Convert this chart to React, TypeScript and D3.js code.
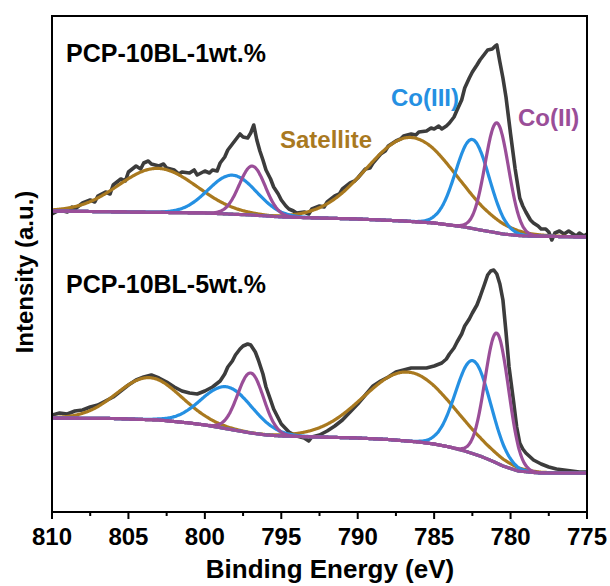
import React from "react";
import * as d3 from "d3";

const W = 610;
const H = 586;
const plot = { left: 52, right: 587, top: 16, bottom: 512 };

const xMajorTicks = [810, 805, 800, 795, 790, 785, 780, 775];
const xMinorTicks = [807.5, 802.5, 797.5, 792.5, 787.5, 782.5, 777.5];

const sampleNames = ["PCP-10BL-1wt.%", "PCP-10BL-5wt.%"];
const componentNames = ["Satellite", "Co(III)", "Co(II)"];
const componentColors = ["#A9791F", "#2590E2", "#9A4E98"];

// measured spectra: [binding energy eV, intensity a.u.]
const spectrum1wt: [number, number][] = [
  [810.0, 298], [809.5, 302], [809.0, 300], [808.7, 305], [808.5, 303], [808.0, 309], [807.5, 312],
  [807.2, 310], [807.0, 316], [806.5, 320], [806.2, 318], [806.0, 327], [805.5, 333], [805.2, 331],
  [805.0, 340], [804.5, 346], [804.2, 343], [804.0, 349], [803.7, 351], [803.5, 348], [803.0, 346],
  [802.7, 348], [802.5, 344], [802.0, 342], [801.7, 338], [801.5, 340], [801.0, 339], [800.7, 342],
  [800.5, 337], [800.0, 341], [799.7, 339], [799.5, 342], [799.2, 341], [799.0, 349], [798.7, 355],
  [798.5, 362], [798.2, 368], [798.0, 372], [797.7, 378], [797.5, 375], [797.2, 374], [797.0, 379],
  [796.8, 387], [796.6, 372], [796.4, 361], [796.2, 352], [796.0, 342], [795.7, 333], [795.5, 325],
  [795.2, 318], [795.0, 312], [794.7, 306], [794.5, 303], [794.2, 301], [794.0, 299], [793.5, 300],
  [793.2, 298], [793.0, 303], [792.5, 306], [792.2, 305], [792.0, 310], [791.5, 316], [791.2, 318],
  [791.0, 323], [790.5, 329], [790.2, 331], [790.0, 334], [789.5, 343], [789.2, 344], [789.0, 349],
  [788.5, 358], [788.2, 361], [788.0, 366], [787.5, 371], [787.2, 373], [787.0, 376], [786.5, 378],
  [786.2, 377], [786.0, 380], [785.5, 381], [785.2, 384], [785.0, 383], [784.7, 386], [784.5, 383],
  [784.2, 386], [784.0, 389], [783.7, 395], [783.5, 402], [783.2, 412], [783.0, 424], [782.7, 434],
  [782.5, 440], [782.2, 447], [782.0, 452], [781.7, 458], [781.5, 462], [781.2, 463], [781.0, 466],
  [780.9, 467], [780.7, 450], [780.5, 434], [780.3, 415], [780.0, 378], [779.7, 343], [779.4, 314],
  [779.2, 306], [779.0, 300], [778.7, 292], [778.5, 289], [778.2, 286], [778.0, 283], [777.7, 283],
  [777.5, 280], [777.3, 272], [777.1, 279], [776.8, 281], [776.5, 278], [776.2, 281], [776.0, 279],
  [775.7, 276], [775.5, 279], [775.2, 276], [775.0, 278],
];

const spectrum5wt: [number, number][] = [
  [810.0, 97], [809.5, 99], [809.0, 98], [808.5, 101], [808.0, 102], [807.5, 105], [807.0, 107],
  [806.5, 111], [806.0, 115], [805.5, 121], [805.0, 127], [804.5, 132], [804.0, 135], [803.5, 137],
  [803.0, 134], [802.5, 130], [802.0, 125], [801.5, 121], [801.0, 119], [800.5, 118], [800.0, 121],
  [799.5, 125], [799.0, 131], [798.7, 138], [798.5, 145], [798.2, 151], [798.0, 157], [797.7, 163],
  [797.5, 166], [797.2, 168], [797.0, 167], [796.7, 160], [796.5, 152], [796.2, 138], [796.0, 125],
  [795.7, 112], [795.5, 103], [795.2, 94], [795.0, 88], [794.5, 80], [794.0, 76], [793.5, 74],
  [793.2, 71], [793.0, 75], [792.5, 77], [792.0, 81], [791.5, 86], [791.0, 92], [790.5, 100],
  [790.0, 108], [789.5, 117], [789.0, 126], [788.5, 131], [788.0, 135], [787.5, 140], [787.0, 142],
  [786.5, 144], [786.0, 144], [785.5, 144], [785.0, 146], [784.5, 149], [784.2, 153], [784.0, 158],
  [783.7, 164], [783.5, 170], [783.2, 178], [783.0, 186], [782.7, 193], [782.5, 199], [782.2, 207],
  [782.0, 215], [781.7, 228], [781.5, 237], [781.3, 241], [781.1, 242], [780.9, 238], [780.7, 228],
  [780.5, 212], [780.3, 180], [780.1, 145], [779.8, 110], [779.6, 85], [779.4, 69], [779.2, 63],
  [779.0, 59], [778.5, 52], [778.0, 48], [777.5, 45], [777.0, 43], [776.5, 42], [776.0, 41],
  [775.5, 40], [775.0, 40],
];

// Shirley-type backgrounds: [eV, intensity]
const background1wt: [number, number][] = [
  [810, 301], [805, 300], [800, 299], [797, 297], [795, 295], [790, 293], [787, 291], [786, 290],
  [785, 289], [784, 287], [783, 285], [782, 282], [781.2, 280], [780.5, 278], [779.5, 276.5],
  [779, 276], [775, 275],
];
const background5wt: [number, number][] = [
  [810, 94], [806, 93.5], [803, 92], [801, 89], [800, 87], [798.5, 83], [797, 79], [796, 77],
  [795, 76], [790, 74], [788, 72.5], [786, 70], [785, 68], [784, 65], [783, 61], [782, 56],
  [781.2, 51], [780.5, 46], [780, 43.5], [779.5, 41], [778.5, 39.5], [778, 39], [775, 39],
];

// fitted components: centre (eV), height above background, sigma (eV); type index into componentNames
const peakType = [0, 1, 2, 0, 1, 2];
const peakCentre1wt = [803.1, 798.2, 796.9, 786.5, 782.5, 780.9];
const peakHeight1wt = [44, 39, 49, 84, 89, 110];
const peakSigma1wt = [2.55, 1.57, 0.85, 2.93, 1.1, 0.77];
const peakCentre5wt = [803.65, 798.55, 797.0, 786.7, 782.45, 780.9];
const peakHeight5wt = [42, 42, 60, 69, 93, 130];
const peakSigma5wt = [2.1, 1.66, 0.85, 2.9, 1.15, 0.77];

const x = d3.scaleLinear().domain([810, 775]).range([plot.left, plot.right]);
const y = d3.scaleLinear().domain([0, 496]).range([plot.bottom, plot.top]);

const line = d3
  .line<[number, number]>()
  .x((d) => x(d[0]))
  .y((d) => y(d[1]));

const grid = d3.range(775, 810.001, 0.05);

function components(bg: [number, number][], c: number[], h: number[], s: number[]) {
  const bgScale = d3
    .scaleLinear()
    .domain(bg.map((d) => d[0]))
    .range(bg.map((d) => d[1]));
  const smooth = d3
    .line<[number, number]>()
    .x((d) => x(d[0]))
    .y((d) => y(d[1]))
    .curve(d3.curveBasis);
  return c.map((ci, i) => {
    const pts: [number, number][] = grid.map((e) => [
      e,
      bgScale(e) + h[i] * Math.exp(-((e - ci) * (e - ci)) / (2 * s[i] * s[i])),
    ]);
    return { type: peakType[i], d: smooth(pts) as string };
  });
}

const font = "'Liberation Sans', Arial, Helvetica, sans-serif";

export default function App() {
  const comps1 = components(background1wt, peakCentre1wt, peakHeight1wt, peakSigma1wt);
  const comps5 = components(background5wt, peakCentre5wt, peakHeight5wt, peakSigma5wt);
  const order = [0, 1, 2];
  const drawComps = (comps: { type: number; d: string }[], key: string) =>
    order.map((t) =>
      comps
        .filter((c) => c.type === t)
        .map((c, j) => (
          <path
            key={key + t + "-" + j}
            d={c.d}
            fill="none"
            stroke={componentColors[t]}
            strokeWidth={3.2}
            strokeLinejoin="round"
          />
        ))
    );
  return (
    <svg
      width={W}
      height={H}
      style={{ position: "absolute", left: 0, top: 0, background: "#fff" }}
      fontFamily={font}
      fontWeight="bold"
    >
      <defs>
        <clipPath id="clip">
          <rect x={plot.left} y={plot.top} width={plot.right - plot.left} height={plot.bottom - plot.top} />
        </clipPath>
      </defs>
      <g clipPath="url(#clip)">
        <path d={line(spectrum1wt) as string} fill="none" stroke="#3c3c3c" strokeWidth={3.6} strokeLinejoin="round" />
        <path d={line(spectrum5wt) as string} fill="none" stroke="#3c3c3c" strokeWidth={3.6} strokeLinejoin="round" />
        {drawComps(comps1, "a")}
        {drawComps(comps5, "b")}
      </g>
      <rect
        x={plot.left}
        y={plot.top}
        width={plot.right - plot.left}
        height={plot.bottom - plot.top}
        fill="none"
        stroke="#000"
        strokeWidth={2}
      />
      {xMajorTicks.map((t) => (
        <g key={"M" + t}>
          <line x1={x(t)} x2={x(t)} y1={plot.bottom} y2={plot.bottom + 7} stroke="#000" strokeWidth={2} />
          <text x={x(t)} y={545} textAnchor="middle" fontSize={24} fill="#000">
            {t}
          </text>
        </g>
      ))}
      {xMinorTicks.map((t) => (
        <line key={"m" + t} x1={x(t)} x2={x(t)} y1={plot.bottom} y2={plot.bottom + 4} stroke="#000" strokeWidth={2} />
      ))}
      <text x={330} y={578} textAnchor="middle" fontSize={26} fill="#000">
        Binding Energy (eV)
      </text>
      <text transform={`translate(33,272) rotate(-90)`} textAnchor="middle" fontSize={24} fill="#000">
        Intensity (a.u.)
      </text>
      <text x={66} y={62} fontSize={25} fill="#000">
        {sampleNames[0]}
      </text>
      <text x={66} y={293} fontSize={25} fill="#000">
        {sampleNames[1]}
      </text>
      <text x={280} y={148} fontSize={24} fill={componentColors[0]}>
        {componentNames[0]}
      </text>
      <text x={391} y={106} fontSize={24} fill={componentColors[1]}>
        {componentNames[1]}
      </text>
      <text x={518} y={126} fontSize={24} fill={componentColors[2]}>
        {componentNames[2]}
      </text>
    </svg>
  );
}
